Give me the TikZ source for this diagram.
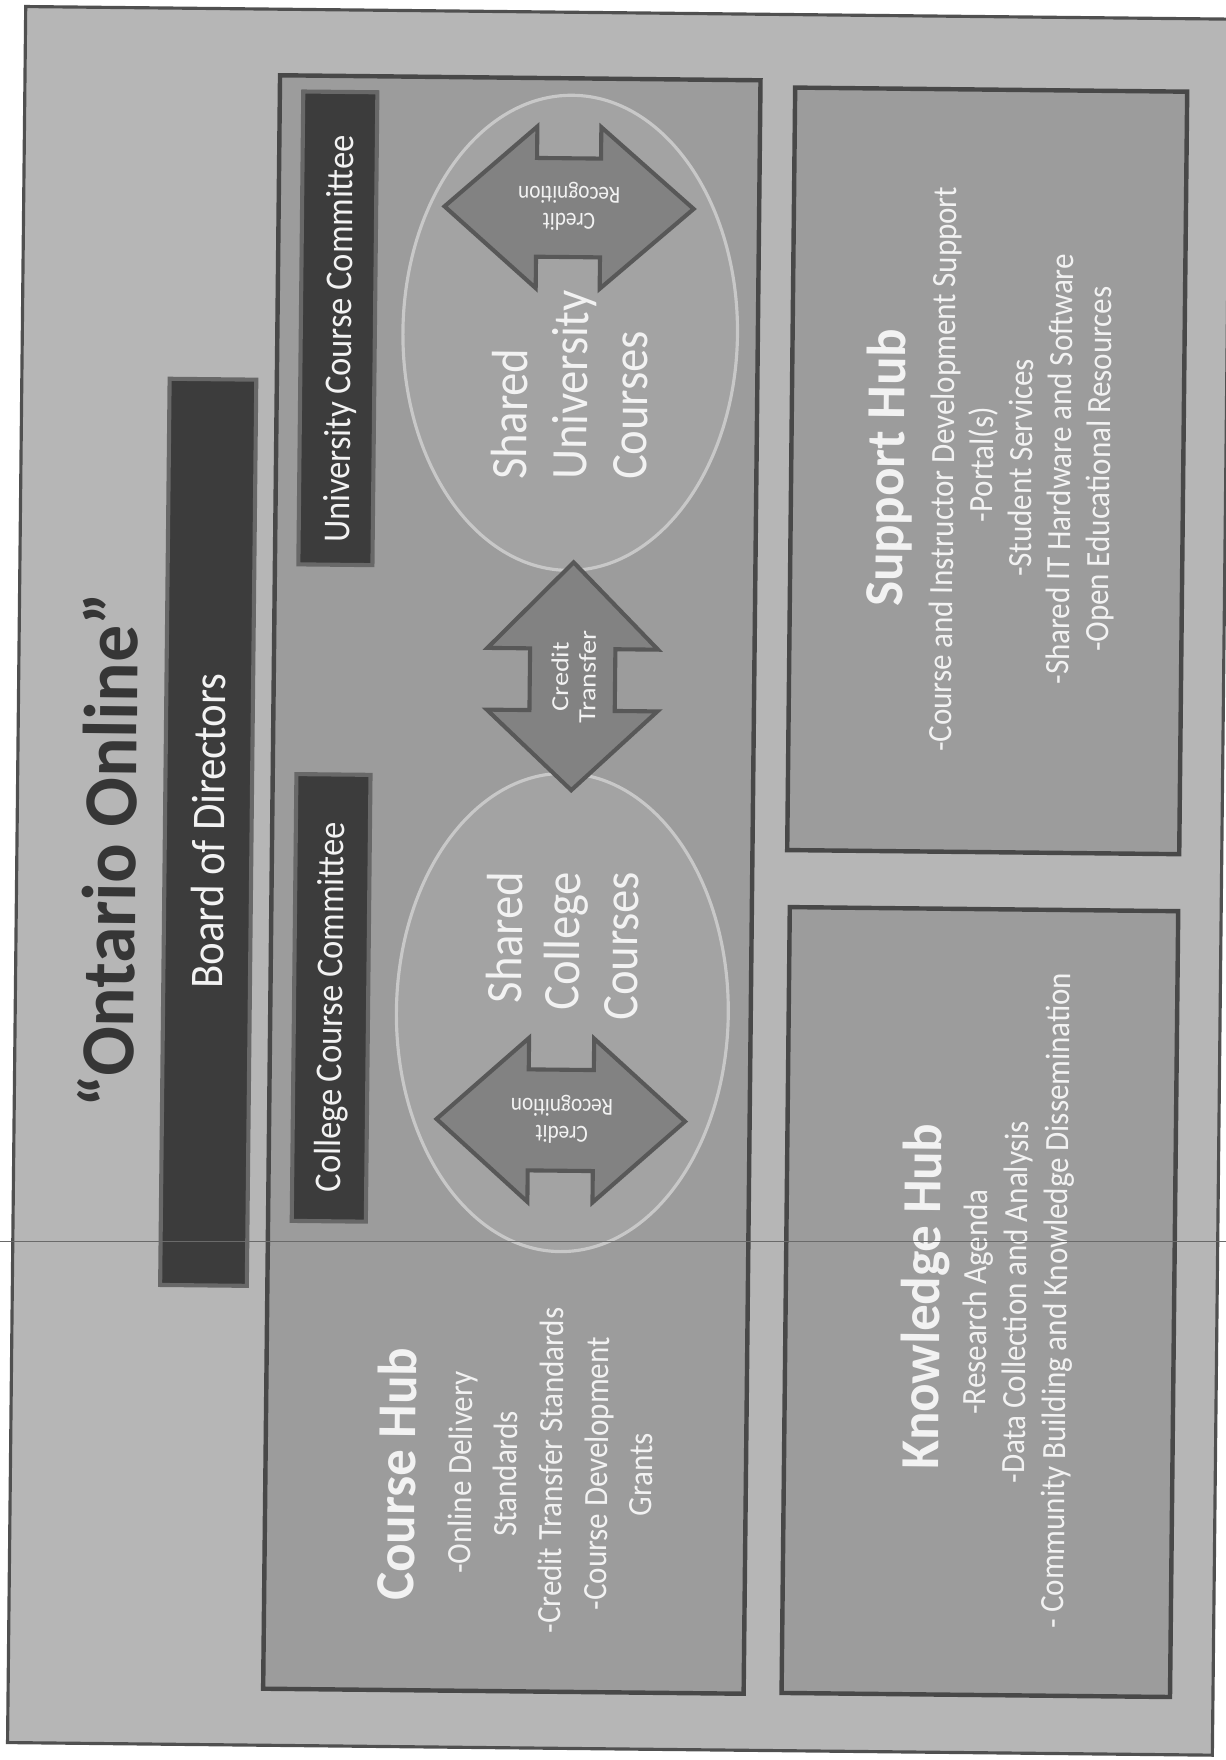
\documentclass[tikz,border=0pt]{standalone}
\usepackage{fontspec}
\setmainfont{Carlito}
\usetikzlibrary{shapes.geometric}
\definecolor{outerfill}{HTML}{B6B6B6}
\definecolor{outerline}{HTML}{505050}
\definecolor{boxfill}{HTML}{9C9C9C}
\definecolor{boxline}{HTML}{484848}
\definecolor{barfill}{HTML}{3C3C3C}
\definecolor{barline}{HTML}{686868}
\definecolor{ovalfill}{HTML}{A3A3A3}
\definecolor{ovalline}{HTML}{C8C8C8}
\definecolor{arrowfill}{HTML}{828282}
\definecolor{arrowline}{HTML}{585858}
\definecolor{txtwhite}{HTML}{F2F2F2}
\definecolor{titlecol}{HTML}{363636}
\definecolor{scancol}{HTML}{6A6A6A}
\tikzset{
  outerbox/.style={draw=outerline, line width=2pt, fill=outerfill, inner sep=0pt, rotate=-0.6},
  hubbox/.style={draw=boxline, line width=2.8pt, fill=boxfill, inner sep=0pt, rotate=-0.6},
  darkbar/.style={draw=barline, line width=2.6pt, fill=barfill, inner sep=0pt, rotate=89.4},
  oval/.style={ellipse, draw=ovalline, line width=2pt, fill=ovalfill, inner sep=0pt, rotate=-0.6},
  arrowshape/.style={draw=arrowline, line width=2.6pt, fill=arrowfill, line join=miter},
  vtext/.style={text=txtwhite, inner sep=0pt, rotate=89.4},
  bodyline/.style={vtext, anchor=base, yscale=1.1, font=\fontsize{19.6}{22}\selectfont},
  hubtitle/.style={vtext, anchor=base, yscale=1.04, font=\bfseries\fontsize{33.5}{38}\selectfont},
  ovalline/.style={vtext, yscale=1.1, font=\fontsize{29.4}{34}\selectfont},
  bartext/.style={vtext, anchor=base, yscale=1.1},
  smalltext/.style={text=txtwhite, inner sep=0pt, align=center, yscale=1.15},
  scanline/.style={draw=scancol, line width=0.7pt}
}
\begin{document}
\begin{tikzpicture}[x=0.025cm,y=-0.025cm]
\useasboundingbox (0,0) rectangle (1092,1568);
\fill[white] (0,0) rectangle (1092,1568);
% frames
\node[outerbox, minimum width=26.83cm, minimum height=38.66cm] (outer) at (551.5,784.75) {};
\node[hubbox, minimum width=10.7cm, minimum height=35.93cm] (coursebox) at (456,788) {};
\node[hubbox, minimum width=8.73cm, minimum height=16.98cm] (supportbox) at (879.5,419.5) {};
\node[hubbox, minimum width=8.65cm, minimum height=17.5cm] (knowbox) at (873,1160) {};
% title and bars
\node[text=titlecol, rotate=89.4, yscale=1.04, anchor=base, inner sep=0pt, font=\bfseries\fontsize{46.5}{50}\selectfont] (title) at (121,758) {“Ontario Online”};
\node[darkbar, minimum width=20.18cm, minimum height=1.93cm] (board) at (185.5,741.5) {};
\node[darkbar, minimum width=10.53cm, minimum height=1.65cm] (univcom) at (301,292.5) {};
\node[darkbar, minimum width=9.95cm, minimum height=1.65cm] (collcom) at (295,889) {};
\node[bartext, font=\fontsize{27}{30}\selectfont] (boardtxt) at (200,740.5) {Board of Directors};
\node[bartext, font=\fontsize{21.8}{24}\selectfont] (univcomtxt) at (313,302) {University Course Committee};
\node[bartext, font=\fontsize{21.8}{24}\selectfont] (collcomtxt) at (305,897.5) {College Course Committee};
% ovals
\node[oval, minimum width=7.45cm, minimum height=10.58cm] (univoval) at (508,296.5) {};
\node[oval, minimum width=7.39cm, minimum height=10.65cm] (colloval) at (501,902) {};
% arrows
\begin{scope}[shift={(507,185)}, rotate=-0.6]
  \draw[arrowshape] (-111,0) -- (-29,-72) -- (-29,-44) -- (28,-44) -- (28,-72) -- (111,0) -- (28,72) -- (28,44) -- (-29,44) -- (-29,72) -- cycle;
\end{scope}
\begin{scope}[shift={(499.6,998)}, rotate=-0.6]
  \draw[arrowshape] (-110.7,0) -- (-29,-73) -- (-29,-45) -- (29,-45) -- (29,-73) -- (110.7,0) -- (29,73) -- (29,45) -- (-29,45) -- (-29,73) -- cycle;
\end{scope}
\begin{scope}[shift={(510,602.5)}, rotate=-0.6]
  \draw[arrowshape] (0,-101.5) -- (76,-24.5) -- (38,-24.5) -- (38,30.5) -- (76,30.5) -- (0,101.5) -- (-76,30.5) -- (-38,30.5) -- (-38,-24.5) -- (-76,-24.5) -- cycle;
\end{scope}
\node[smalltext, rotate=179.4, font=\fontsize{13.5}{14.8}\selectfont] (univrec) at (507,184) {Credit\\Recognition};
\node[smalltext, rotate=179.4, font=\fontsize{13.5}{14.8}\selectfont] (collrec) at (500.5,997) {Credit\\Recognition};
\node[smalltext, rotate=89.4, font=\fontsize{15.5}{17.3}\selectfont] (transfer) at (511,603) {Credit\\Transfer};
% oval texts
\node[ovalline, anchor=base west] (u1) at (469,427.7) {Shared};
\node[ovalline, anchor=base west] (u2) at (522.5,427.7) {University};
\node[ovalline, anchor=base west] (u3) at (576,427.7) {Courses};
\node[ovalline, anchor=base east] (c1) at (466,776.7) {Shared};
\node[ovalline, anchor=base east] (c2) at (517,776.7) {College};
\node[ovalline, anchor=base east] (c3) at (569,776.7) {Courses};
% course hub
\node[hubtitle] (cht) at (370,1313.5) {Course Hub};
\node[bodyline] (ch1) at (420.3,1312) {-Online Delivery};
\node[bodyline] (ch2) at (460.5,1313) {Standards};
\node[bodyline] (ch3) at (501,1310) {-Credit Transfer Standards};
\node[bodyline] (ch4) at (541.5,1313) {-Course Development};
\node[bodyline] (ch5) at (581,1314) {Grants};
% support hub
\node[hubtitle] (sht) at (805.5,417) {Support Hub};
\node[bodyline] (sh1) at (850,418) {-Course and Instructor Development Support};
\node[bodyline] (sh2) at (884.8,414) {-Portal(s)};
\node[bodyline] (sh3) at (919.5,417) {-Student Services};
\node[bodyline] (sh4) at (954.2,418) {-Shared IT Hardware and Software};
\node[bodyline] (sh5) at (989,418) {-Open Educational Resources};
% knowledge hub
\node[hubtitle] (kht) at (837.5,1155) {Knowledge Hub};
\node[bodyline] (kh1) at (879,1160) {-Research Agenda};
\node[bodyline] (kh2) at (914.5,1160) {-Data Collection and Analysis};
\node[bodyline] (kh3) at (950.5,1159) {- Community Building and Knowledge Dissemination};
% scan artefact line
\coordinate (scanL) at (0,1106);
\coordinate (scanR) at (1092,1106);
\draw[scanline] (scanL) -- (scanR);
\end{tikzpicture}
\end{document}
